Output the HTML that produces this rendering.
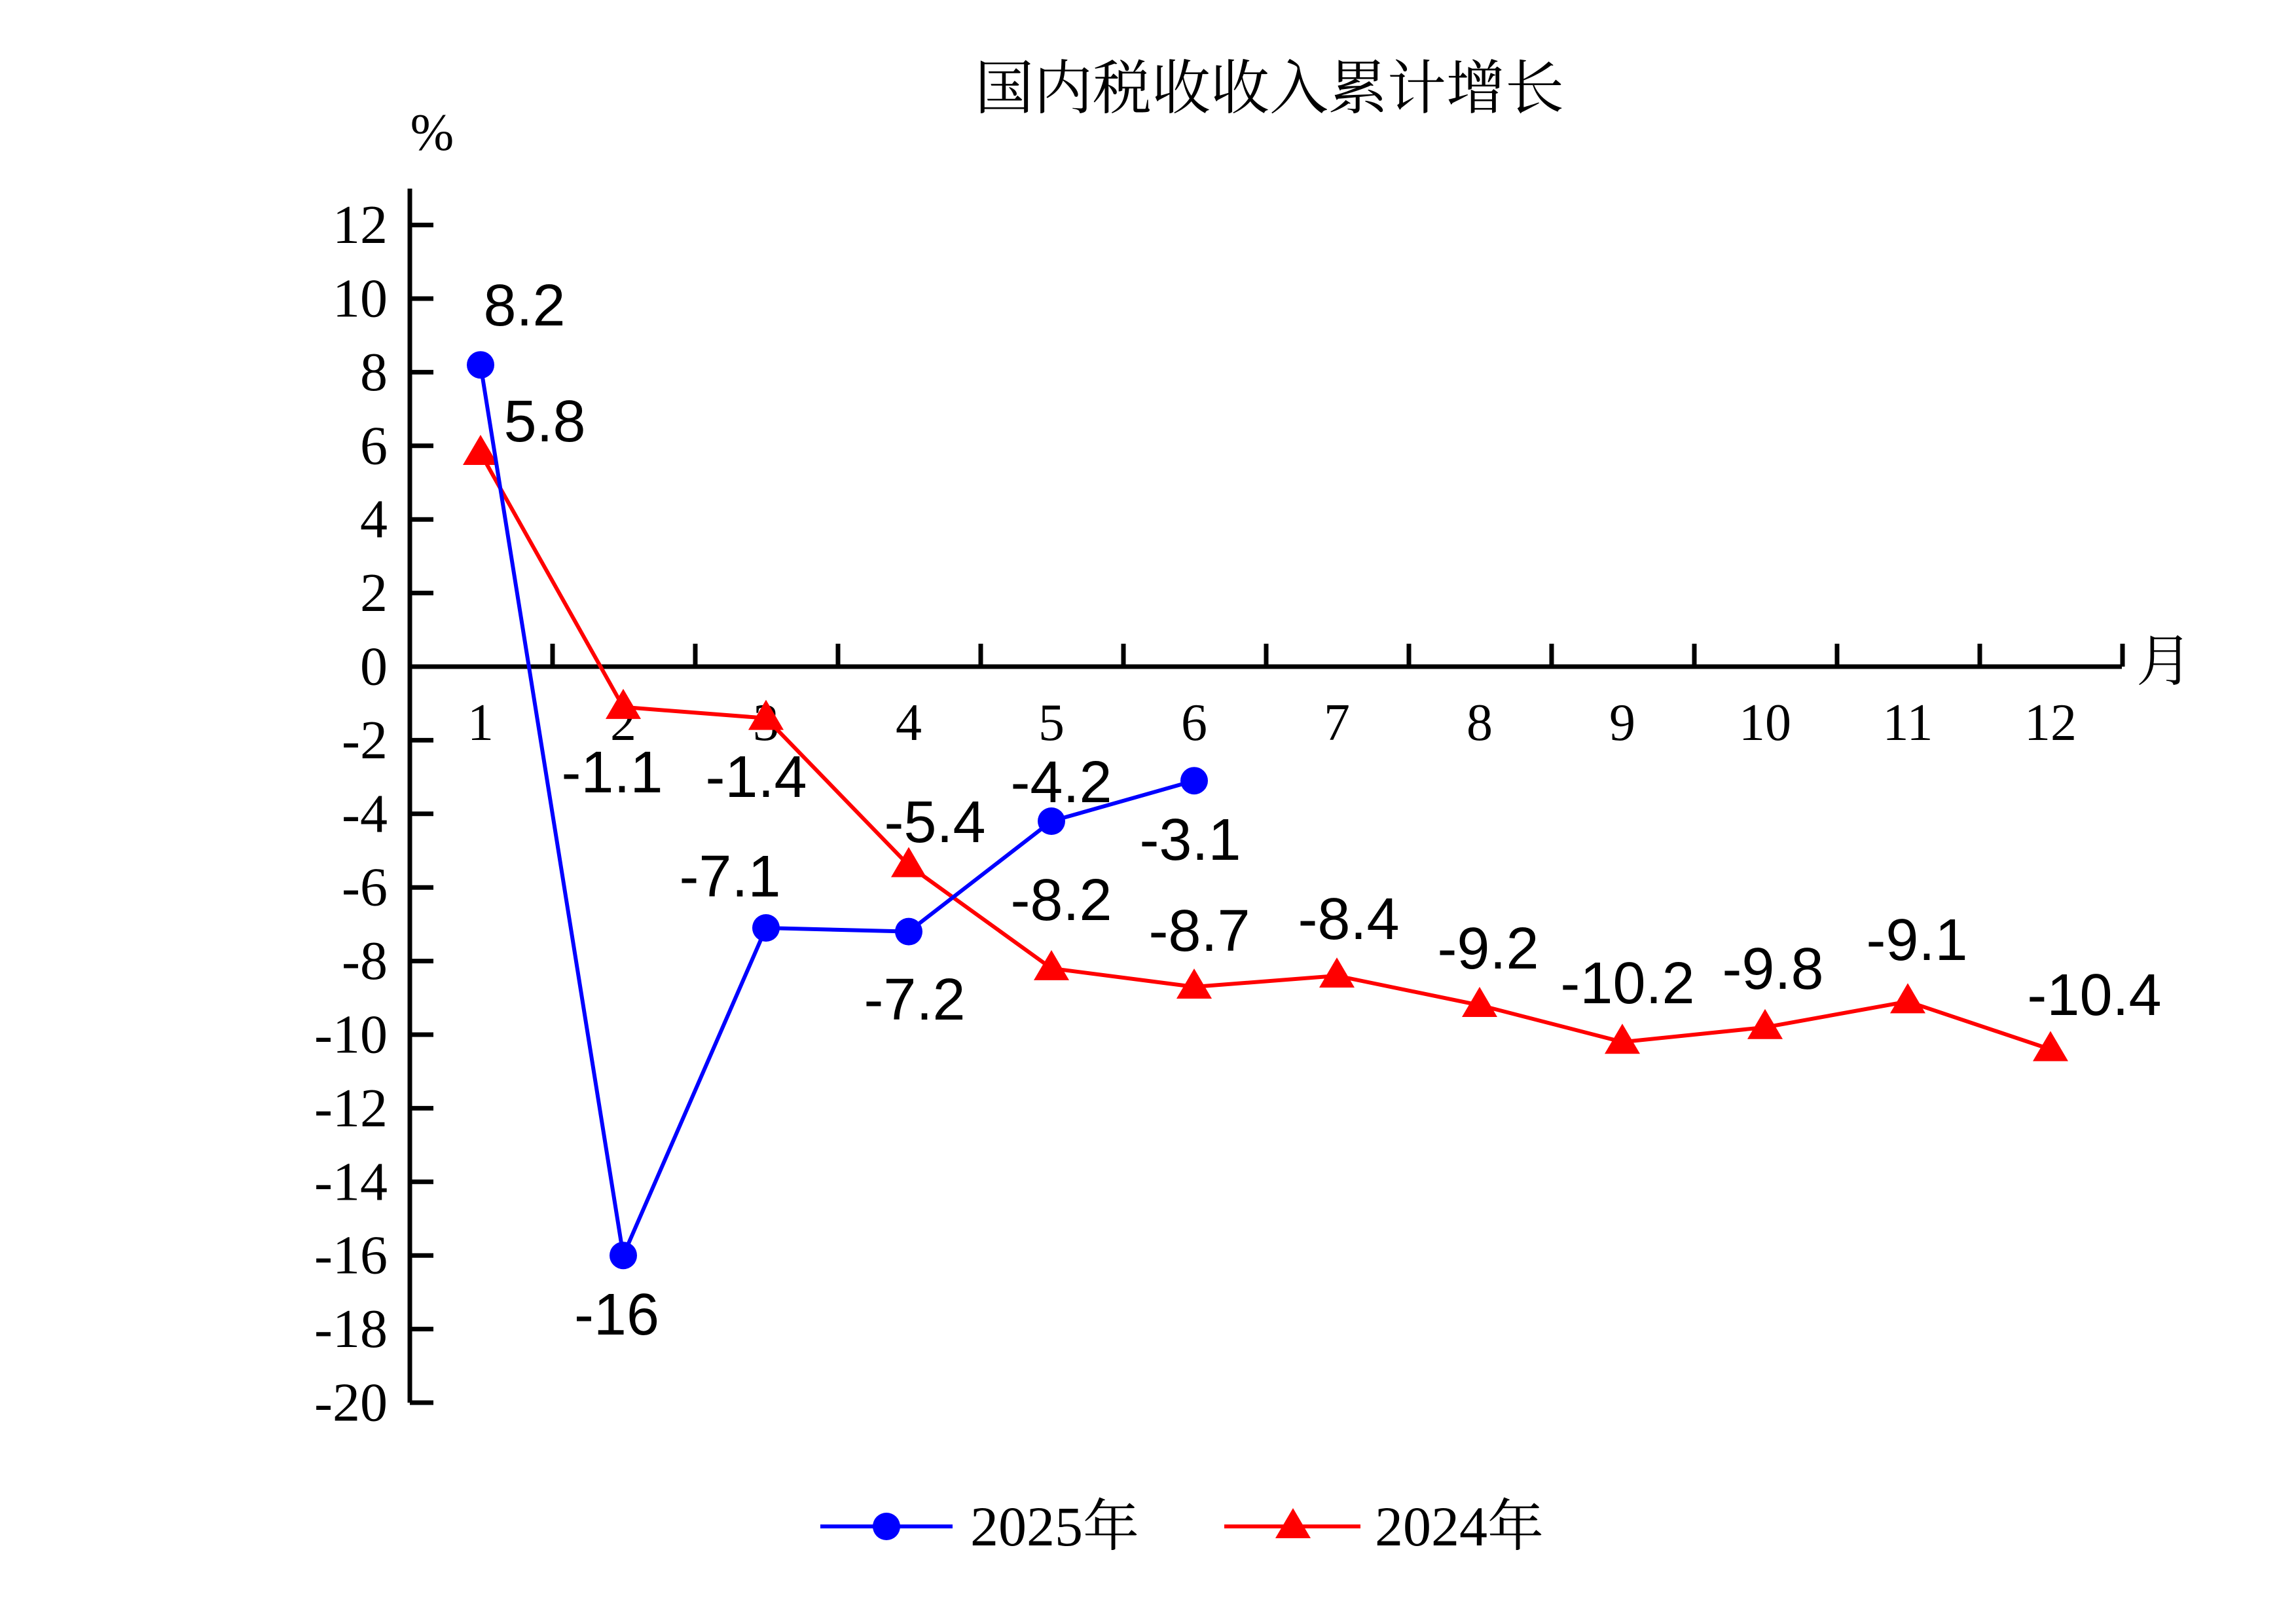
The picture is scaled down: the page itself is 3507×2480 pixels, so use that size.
<!DOCTYPE html>
<html><head><meta charset="utf-8"><style>html,body{margin:0;padding:0;background:#fff}svg{display:block}</style></head>
<body>
<svg width="3507" height="2480" viewBox="0 0 3507 2480" xmlns="http://www.w3.org/2000/svg">
<rect width="3507" height="2480" fill="#fff"/>
<text x="1939" y="136" font-family="'Liberation Serif','Noto Serif CJK SC',serif" font-size="90" text-anchor="middle" dominant-baseline="central">国内税收收入累计增长</text>
<text x="660" y="203" font-family="'Liberation Serif',serif" font-size="80" text-anchor="middle" dominant-baseline="central">%</text>
<text x="3306" y="1010" font-family="'Liberation Serif','Noto Serif CJK SC',serif" font-size="86" text-anchor="middle" dominant-baseline="central">月</text>
<g stroke="#000" stroke-width="7" fill="none">
<line x1="626" y1="288" x2="626" y2="2142"/>
<line x1="626" y1="1018" x2="3241" y2="1018"/>
</g>
<g id="yt" stroke="#000" stroke-width="7"></g>
<g id="xt" stroke="#000" stroke-width="7"></g>
<g id="yl" font-family="'Liberation Serif',serif" font-size="84" text-anchor="end" dominant-baseline="central"></g>
<g id="xl" font-family="'Liberation Serif',serif" font-size="80" text-anchor="middle" dominant-baseline="central"></g>
<polyline fill="none" stroke="#ff0000" stroke-width="6" points="734,692 952,1079.8 1170,1096.7 1388,1321.5 1606,1478.8 1824,1507 2042,1490.1 2260,1535 2478,1591.2 2696,1568.8 2914,1529.4 3132,1602.5"/>
<g id="tri" fill="#ff0000"></g>
<polyline fill="none" stroke="#0000ff" stroke-width="6" points="734,557.2 952,1917.2 1170,1417 1388,1422.6 1606,1254 1824,1192.2"/>
<g fill="#0000ff">
<circle cx="734" cy="557.2" r="21"/><circle cx="952" cy="1917.2" r="21"/><circle cx="1170" cy="1417" r="21"/><circle cx="1388" cy="1422.6" r="21"/><circle cx="1606" cy="1254" r="21"/><circle cx="1824" cy="1192.2" r="21"/>
</g>
<g font-family="'Liberation Sans',sans-serif" font-size="90" text-anchor="middle" dominant-baseline="central">
<text x="801" y="467">8.2</text><text x="832" y="644">5.8</text>
<text x="935" y="1180">-1.1</text><text x="1155" y="1187">-1.4</text>
<text x="942" y="2008">-16</text><text x="1115" y="1339">-7.1</text>
<text x="1397" y="1527">-7.2</text><text x="1428" y="1256">-5.4</text>
<text x="1621" y="1195">-4.2</text><text x="1818" y="1283">-3.1</text>
<text x="1621" y="1375">-8.2</text><text x="1832" y="1422">-8.7</text>
<text x="2060" y="1404">-8.4</text><text x="2273" y="1449">-9.2</text>
<text x="2486" y="1502">-10.2</text><text x="2708" y="1480">-9.8</text>
<text x="2928" y="1436">-9.1</text><text x="3199" y="1520">-10.4</text>
</g>
<line x1="1253" y1="2331" x2="1455" y2="2331" stroke="#0000ff" stroke-width="6"/>
<circle cx="1354" cy="2331" r="21" fill="#0000ff"/>
<text x="1482" y="2331" font-family="'Liberation Serif','Noto Serif CJK SC',serif" font-size="86" dominant-baseline="central">2025年</text>
<line x1="1870" y1="2331" x2="2078" y2="2331" stroke="#ff0000" stroke-width="6"/>
<polygon points="1975,2303 2002,2349 1948,2349" fill="#ff0000"/>
<text x="2100" y="2331" font-family="'Liberation Serif','Noto Serif CJK SC',serif" font-size="86" dominant-baseline="central">2024年</text>
<script>
var ns="http://www.w3.org/2000/svg";
function el(p,t,a,txt){var e=document.createElementNS(ns,t);for(var k in a)e.setAttribute(k,a[k]);if(txt!==undefined)e.textContent=txt;document.getElementById(p).appendChild(e);}
for(var v=12;v>=-20;v-=2){var y=1018-56.2*v;if(v!==0)el("yt","line",{x1:626,y1:y,x2:662,y2:y});el("yl","text",{x:592,y:y},String(v));}
for(var k=1;k<=12;k++){var x=626+218*k;el("xt","line",{x1:x,y1:1018,x2:x,y2:983});el("xl","text",{x:734+218*(k-1),y:1104},String(k));}
var r=[5.8,-1.1,-1.4,-5.4,-8.2,-8.7,-8.4,-9.2,-10.2,-9.8,-9.1,-10.4];
for(var i=0;i<12;i++){var x=734+218*i,y=1018-56.2*r[i];el("tri","polygon",{points:x+","+(y-28)+" "+(x+27)+","+(y+18)+" "+(x-27)+","+(y+18)});}
</script>
</svg>
</body></html>
